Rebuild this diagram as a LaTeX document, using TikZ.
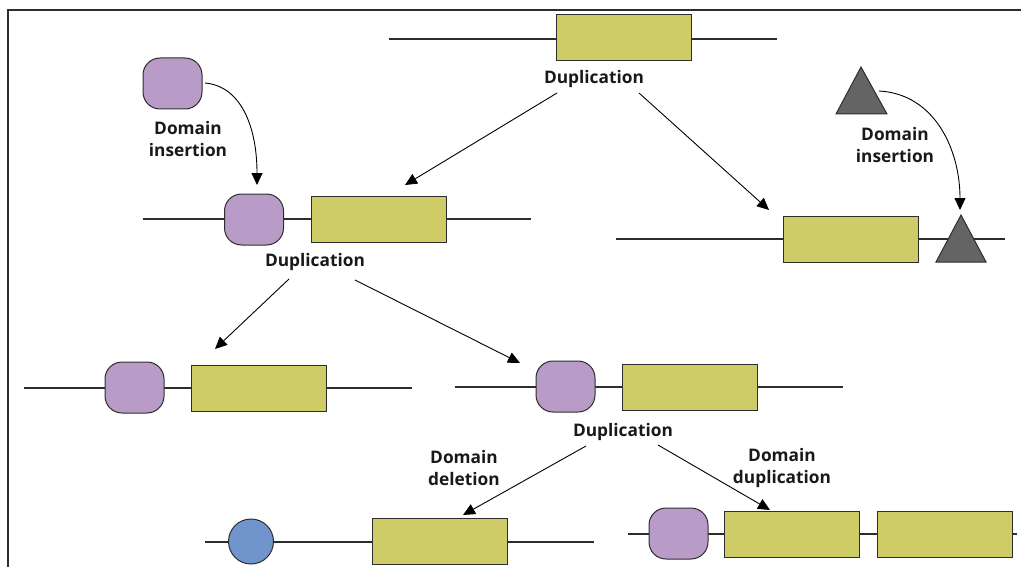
\documentclass[tikz,border=0pt]{standalone}
\usepackage{fontspec}
\setmainfont{Open Sans}
\usetikzlibrary{arrows.meta}
\definecolor{genefill}{RGB}{206,204,102}
\definecolor{domfill}{RGB}{185,155,200}
\definecolor{trifill}{RGB}{100,100,100}
\definecolor{circfill}{RGB}{114,148,204}
\definecolor{linecol}{RGB}{45,45,45}
\tikzset{
  genebox/.style={draw=linecol, line width=1pt, fill=genefill, minimum width=135pt, minimum height=46pt, inner sep=0pt, outer sep=0pt},
  dombox/.style={draw=linecol, line width=1pt, fill=domfill, minimum width=59pt, minimum height=51pt, rounded corners=17pt, inner sep=0pt, outer sep=0pt},
  circdom/.style={draw=linecol, line width=1pt, fill=circfill, circle, minimum size=45pt, inner sep=0pt, outer sep=0pt},
  tridom/.style={draw=linecol, line width=1pt, fill=trifill, line join=miter},
  chrom/.style={draw=linecol, line width=1.1pt},
  lbl/.style={font=\bfseries\fontsize{17.3}{21.5}\selectfont, align=center, inner sep=0pt, text=black!90},
  arr/.style={draw=black, line width=0.9pt, -{Triangle[length=12pt,width=11pt]}},
  frame/.style={draw=linecol, line width=1.1pt}
}
\begin{document}
\begin{tikzpicture}[x=1pt,y=-1pt]
\useasboundingbox (0,0) rectangle (1022,567);
% frame
\coordinate (f1) at (8,567);
\coordinate (f2) at (8,10);
\coordinate (f3) at (1021,10);
\draw[frame] (f1) -- (f2) -- (f3);

% gene 1 (top)
\coordinate (g1l) at (389,39);
\coordinate (g1r) at (777,39);
\draw[chrom] (g1l) -- (g1r);
\node[genebox] (g1box) at (623.5,38) {};
\node[lbl] (dup1) at (594,79) {Duplication};

% top-left insertion domain
\node[dombox] (insdom) at (172.5,83.5) {};
\node[lbl] (insl) at (188,139) {Domain\\insertion};

% gene 2
\coordinate (g2l) at (143,219);
\coordinate (g2r) at (531,219);
\draw[chrom] (g2l) -- (g2r);
\node[dombox] (g2dom) at (254,219.5) {};
\node[genebox] (g2box) at (378.5,219) {};
\node[lbl] (dup2) at (315,262) {Duplication};

% gene 3
\coordinate (g3l) at (616,239);
\coordinate (g3r) at (1005,239);
\draw[chrom] (g3l) -- (g3r);
\node[genebox] (g3box) at (850.5,239) {};
\coordinate (t3a) at (961,215);
\coordinate (t3b) at (986,262);
\coordinate (t3c) at (936,262);
\draw[tridom] (t3a) -- (t3b) -- (t3c) -- cycle;

% top-right triangle
\coordinate (t0a) at (861,67);
\coordinate (t0b) at (887,114);
\coordinate (t0c) at (836,114);
\draw[tridom] (t0a) -- (t0b) -- (t0c) -- cycle;
\node[lbl] (insr) at (895,145) {Domain\\insertion};

% gene 4
\coordinate (g4l) at (24,388);
\coordinate (g4r) at (412,388);
\draw[chrom] (g4l) -- (g4r);
\node[dombox] (g4dom) at (134.5,387.5) {};
\node[genebox] (g4box) at (258.5,388) {};

% gene 5
\coordinate (g5l) at (455,387);
\coordinate (g5r) at (843,387);
\draw[chrom] (g5l) -- (g5r);
\node[dombox] (g5dom) at (565.5,386.5) {};
\node[genebox] (g5box) at (689.5,387) {};
\node[lbl] (dup3) at (623,432) {Duplication};
\node[lbl] (dell) at (464,468) {Domain\\deletion};
\node[lbl] (dupl) at (782,468) {Domain\\duplication};

% gene 6
\coordinate (g6l) at (205,542);
\coordinate (g6r) at (594,542);
\draw[chrom] (g6l) -- (g6r);
\node[circdom] (g6dom) at (251,541.5) {};
\node[genebox] (g6box) at (439.5,541) {};

% gene 7
\coordinate (g7l) at (628,534);
\coordinate (g7r) at (1017,534);
\draw[chrom] (g7l) -- (g7r);
\node[dombox] (g7dom) at (678.5,533.5) {};
\node[genebox] (g7box1) at (791.5,534) {};
\node[genebox] (g7box2) at (945,534) {};

% arrow ends
\coordinate (a1s) at (557,93);
\coordinate (a1e) at (405,185);
\coordinate (a2s) at (639,93);
\coordinate (a2e) at (769,210);
\coordinate (a3s) at (289,279);
\coordinate (a3e) at (215,349);
\coordinate (a4s) at (355,280);
\coordinate (a4e) at (520,363);
\coordinate (a5s) at (586,446);
\coordinate (a5e) at (463,515);
\coordinate (a6s) at (658,445);
\coordinate (a6e) at (770,510);
\coordinate (c1s) at (205,83);
\coordinate (c1e) at (257,185);
\coordinate (c2s) at (879,91);
\coordinate (c2e) at (960,210);

\draw[arr] (a1s) -- (a1e);
\draw[arr] (a2s) -- (a2e);
\draw[arr] (a3s) -- (a3e);
\draw[arr] (a4s) -- (a4e);
\draw[arr] (a5s) -- (a5e);
\draw[arr] (a6s) -- (a6e);
\draw[arr] (c1s) .. controls (240,86) and (257,125) .. (c1e);
\draw[arr] (c2s) .. controls (935,94) and (960,150) .. (c2e);
\end{tikzpicture}
\end{document}
